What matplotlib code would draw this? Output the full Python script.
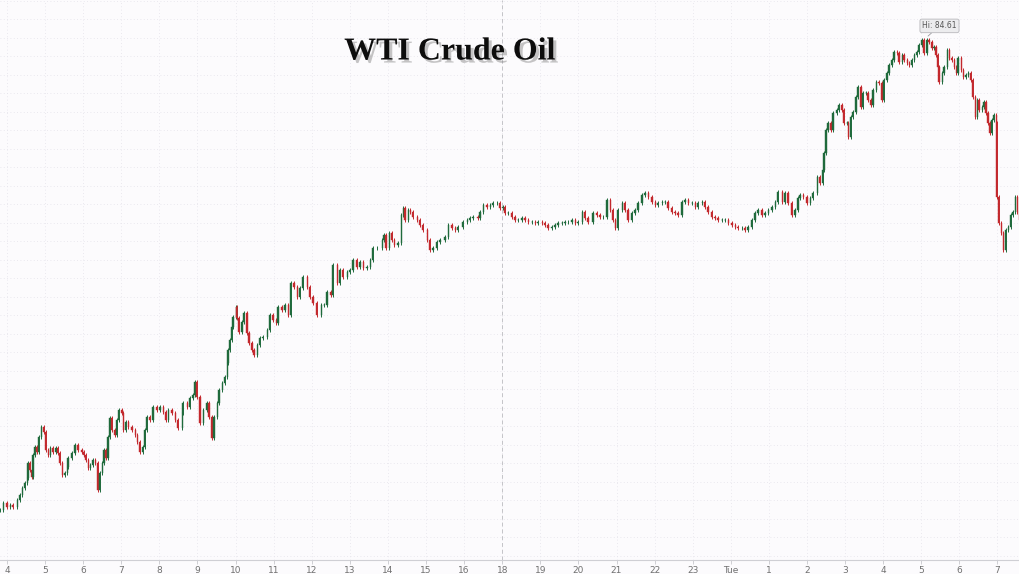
import numpy as np
import matplotlib
matplotlib.use("Agg")
import matplotlib.pyplot as plt
import matplotlib.patheffects as pe

# ---- data (trading minutes since 04:00 Monday, 17:00 hour skipped) ----
bar_minutes = [
    -11, -6, 0, 5, 9, 16, 20, 24, 28, 32, 33, 36, 39, 41, 44, 47, 50, 54, 58, 61,
    65, 68, 72, 77, 80, 83, 87, 91, 95, 96, 102, 107, 112, 118, 121, 124, 128, 131, 135, 139,
    143, 146, 150, 153, 156, 159, 162, 165, 170, 173, 176, 181, 183, 187, 191, 197, 202, 205, 209, 214,
    217, 220, 225, 230, 236, 241, 246, 250, 254, 260, 265, 269, 276, 277, 284, 288, 293, 296, 299,
    304, 309, 315, 318, 323, 326, 331, 334, 339, 343, 347, 348, 351, 354, 356, 361, 362, 365, 370, 373,
    378, 381, 386, 389, 394, 398, 403, 410, 414, 419, 424, 427, 433, 438, 443, 447, 452, 457, 461, 466,
    473, 477, 482, 488, 495, 499, 504, 510, 513, 520, 524, 529, 536, 540, 545, 551, 556, 561, 567, 572,
    576, 583, 591, 594, 597, 602, 606, 610, 616,
    621, 624, 627, 632, 635, 639, 646, 650, 655, 662, 666, 671, 677, 682, 690, 695, 701, 706, 710, 718,
    725, 729, 734, 742, 745, 750, 756, 761, 765, 772, 776, 781, 784, 789, 795, 800, 805, 811, 816, 821,
    827, 832, 836, 843, 847, 852, 858, 863, 868, 874, 879, 884, 890, 895, 899, 906, 910, 915, 923, 929,
    934, 939, 945, 950, 954, 958, 962, 969, 973, 978, 984, 989, 994, 1000, 1005, 1010, 1016, 1021, 1025, 1032,
    1036, 1041, 1047, 1052, 1057, 1063, 1068, 1073, 1079, 1084, 1088, 1095, 1099, 1104, 1110, 1115, 1120, 1126, 1131, 1136,
    1142, 1147, 1151, 1158, 1162, 1167, 1173, 1178, 1183, 1189, 1194, 1199, 1205, 1210, 1214, 1221, 1225, 1230, 1236, 1241,
    1246,
    1249, 1254, 1260, 1265, 1269, 1276, 1280, 1285, 1287, 1290, 1293, 1298, 1301, 1307, 1310, 1315, 1318, 1323, 1325, 1329,
    1332, 1337, 1340, 1345, 1348, 1353, 1356, 1361, 1364, 1369, 1373, 1378, 1381, 1386, 1389, 1394, 1397, 1402, 1405, 1410,
    1413, 1418, 1421, 1425, 1429, 1433, 1436, 1441, 1444, 1449, 1452, 1457, 1460, 1463, 1466, 1468, 1473, 1476, 1481, 1484,
    1488, 1492, 1495, 1498, 1503, 1506, 1510, 1514, 1518, 1521, 1525, 1528, 1531, 1536, 1539, 1542, 1545, 1548, 1551, 1554,
    1558, 1559, 1562, 1566, 1569, 1573, 1577, 1581, 1584, 1588, 1591, 1595,
]
bar_close = [
    79.88, 79.95, 79.91, 79.93, 79.91, 79.98, 80.03, 80.10, 80.15, 80.20, 80.35, 80.28, 80.21, 80.43, 80.51, 80.46, 80.61, 80.71, 80.66, 80.48,
    80.43, 80.50, 80.46, 80.50, 80.45, 80.35, 80.23, 80.25, 80.31, 80.40, 80.45, 80.53, 80.48, 80.46, 80.43, 80.38, 80.30, 80.33, 80.38, 80.35,
    80.08, 80.25, 80.35, 80.48, 80.40, 80.61, 80.80, 80.68, 80.63, 80.78, 80.88, 80.85, 80.68, 80.76, 80.71, 80.68, 80.63, 80.56, 80.46, 80.51,
    80.68, 80.81, 80.78, 80.91, 80.88, 80.91, 80.86, 80.78, 80.88, 80.85, 80.78, 80.70, 80.85, 80.95, 80.91, 81.00, 81.03, 81.16, 81.01,
    80.75, 80.88, 80.95, 80.81, 80.60, 80.81, 80.95, 81.08, 81.15, 81.21, 81.35, 81.48, 81.58, 81.71, 81.81, 81.91, 81.80, 81.66, 81.76, 81.85,
    81.65, 81.55, 81.48, 81.43, 81.53, 81.60, 81.61, 81.68, 81.83, 81.78, 81.75, 81.91, 81.88, 81.93, 81.83, 82.15, 82.11, 82.01, 82.10, 82.21,
    82.11, 82.01, 81.95, 81.83, 81.93, 81.93, 82.06, 82.03, 82.33, 82.15, 82.28, 82.21, 82.26, 82.28, 82.38, 82.31, 82.36, 82.30, 82.31, 82.38,
    82.50, 82.50, 82.58, 82.63, 82.50, 82.65, 82.58, 82.53, 82.55,
    82.83, 82.90, 82.78, 82.88, 82.86, 82.81, 82.78, 82.73, 82.68, 82.58, 82.48, 82.50, 82.56, 82.58, 82.61, 82.73, 82.70, 82.68, 82.71, 82.76,
    82.78, 82.80, 82.81, 82.80, 82.86, 82.93, 82.91, 82.93, 82.95, 82.95, 82.90, 82.91, 82.85, 82.85, 82.81, 82.78, 82.78, 82.80, 82.78, 82.76,
    82.76, 82.75, 82.76, 82.75, 82.73, 82.70, 82.71, 82.73, 82.75, 82.75, 82.76, 82.76, 82.78, 82.75, 82.76, 82.86, 82.80, 82.76, 82.85, 82.83,
    82.81, 82.81, 82.98, 82.88, 82.78, 82.70, 82.88, 82.95, 82.88, 82.78, 82.85, 82.88, 82.95, 83.03, 83.05, 83.01, 82.96, 82.93, 82.95, 82.96,
    82.96, 82.90, 82.86, 82.85, 82.83, 82.96, 82.98, 82.95, 82.95, 82.91, 82.95, 82.96, 82.91, 82.86, 82.81, 82.80, 82.78, 82.78, 82.78, 82.75,
    82.73, 82.71, 82.70, 82.70, 82.68, 82.71, 82.78, 82.85, 82.88, 82.83, 82.85, 82.88, 82.91, 82.96, 83.06, 82.96, 83.05, 82.95, 82.83, 82.88,
    83.00,
    83.03, 83.01, 82.95, 83.00, 83.05, 83.21, 83.15, 83.28, 83.45, 83.68, 83.75, 83.68, 83.85, 83.88, 83.93, 83.88, 83.75, 83.75, 83.61, 83.81,
    83.86, 84.01, 84.11, 83.91, 84.05, 84.05, 83.98, 83.93, 84.08, 84.16, 84.15, 83.98, 84.18, 84.25, 84.33, 84.38, 84.46, 84.45, 84.36, 84.43,
    84.38, 84.35, 84.33, 84.38, 84.43, 84.46, 84.53, 84.58, 84.45, 84.58, 84.56, 84.50, 84.51, 84.43, 84.31, 84.16, 84.25, 84.31, 84.48, 84.40,
    84.38, 84.31, 84.25, 84.40, 84.28, 84.21, 84.23, 84.25, 84.18, 84.01, 83.81, 83.98, 83.88, 83.91, 83.96, 83.85, 83.75, 83.65, 83.78, 83.83,
    83.75, 83.01, 82.75, 82.65, 82.48, 82.68, 82.71, 82.83, 82.86, 83.01, 82.86, 82.78,
]
tick_labels = ["4", "5", "6", "7", "8", "9", "10", "11", "12", "13", "14", "15", "16",
               "18", "19", "20", "21", "22", "23", "Tue", "1", "2", "3", "4", "5", "6", "7"]
session_break_label = "18"
hi_value = 84.61
hi_minute = 1449
title = "WTI Crude Oil"

# ---- figure ----
BG = "#fcfbfd"
UP = "#1f6a3c"
DOWN = "#c3282d"
WICK_PAD = 0.02  # drawing style: wick overhang beyond the body

fig = plt.figure(figsize=(10.2, 5.74), dpi=100, facecolor=BG)
ax = fig.add_axes([0, 14 / 574, 1, 560 / 574])
ax.set_facecolor(BG)

t = np.array(bar_minutes, dtype=float)
c = np.array(bar_close, dtype=float)
o = np.concatenate([[c[0]], c[:-1]])
up = c >= o
cols = np.where(up, UP, DOWN)

ax.vlines(t, np.minimum(o, c) - WICK_PAD, np.maximum(o, c) + WICK_PAD,
          colors=cols, linewidth=0.7, zorder=3)
ax.bar(t, c - o, bottom=o, width=2.0, color=cols, edgecolor=cols, linewidth=0.3, zorder=4)

tick_pos = np.arange(len(tick_labels)) * 60
ax.set_xticks(tick_pos)
ax.set_xticklabels(tick_labels)
ax.set_xlim(-11, 1595.5)
ax.set_ylim(79.38, 84.98)

ax.tick_params(axis="x", direction="out", length=3, width=0.6, color="#c8c8cc",
               labelsize=6.5, labelcolor="#707070", pad=1.5)
ax.tick_params(axis="y", left=False, labelleft=False)
for s in ["top", "right", "left"]:
    ax.spines[s].set_visible(False)
ax.spines["bottom"].set_color("#cfcfd4")
ax.spines["bottom"].set_linewidth(0.8)

# faint dotted grid
ax.set_yticks(np.arange(79.42, 84.98, 0.185))
ax.grid(True, axis="both", linestyle=(0, (1, 3)), color="#e4e2ea", linewidth=0.6, zorder=0)

# session break dashed line
brk = tick_pos[tick_labels.index(session_break_label)]
ax.axvline(brk, color="#c4c4c8", linestyle=(0, (4, 3)), linewidth=0.7, zorder=2)

# Hi annotation
ax.annotate(f"Hi: {hi_value:.2f}", xy=(hi_minute, hi_value), xytext=(9, 8),
            textcoords="offset points", ha="center", va="center",
            fontsize=5.5, color="#555555",
            bbox=dict(boxstyle="round,pad=0.3,rounding_size=0.25", fc="#ececee", ec="#b8b8bc", lw=0.6),
            arrowprops=dict(arrowstyle="-", color="#9a9a9e", lw=0.6, shrinkA=0, shrinkB=1),
            zorder=6)

# title with shadow
fig.text(450 / 1020, 1 - 52 / 574, title, ha="center", va="center",
         fontfamily="Liberation Serif", fontweight="bold", fontsize=23, color="#0d0d0d",
         path_effects=[pe.SimplePatchShadow(offset=(2.2, -2.2), shadow_rgbFace="#808080", alpha=0.45),
                       pe.Normal()])

fig.savefig("out.png", dpi=100, facecolor=BG)
